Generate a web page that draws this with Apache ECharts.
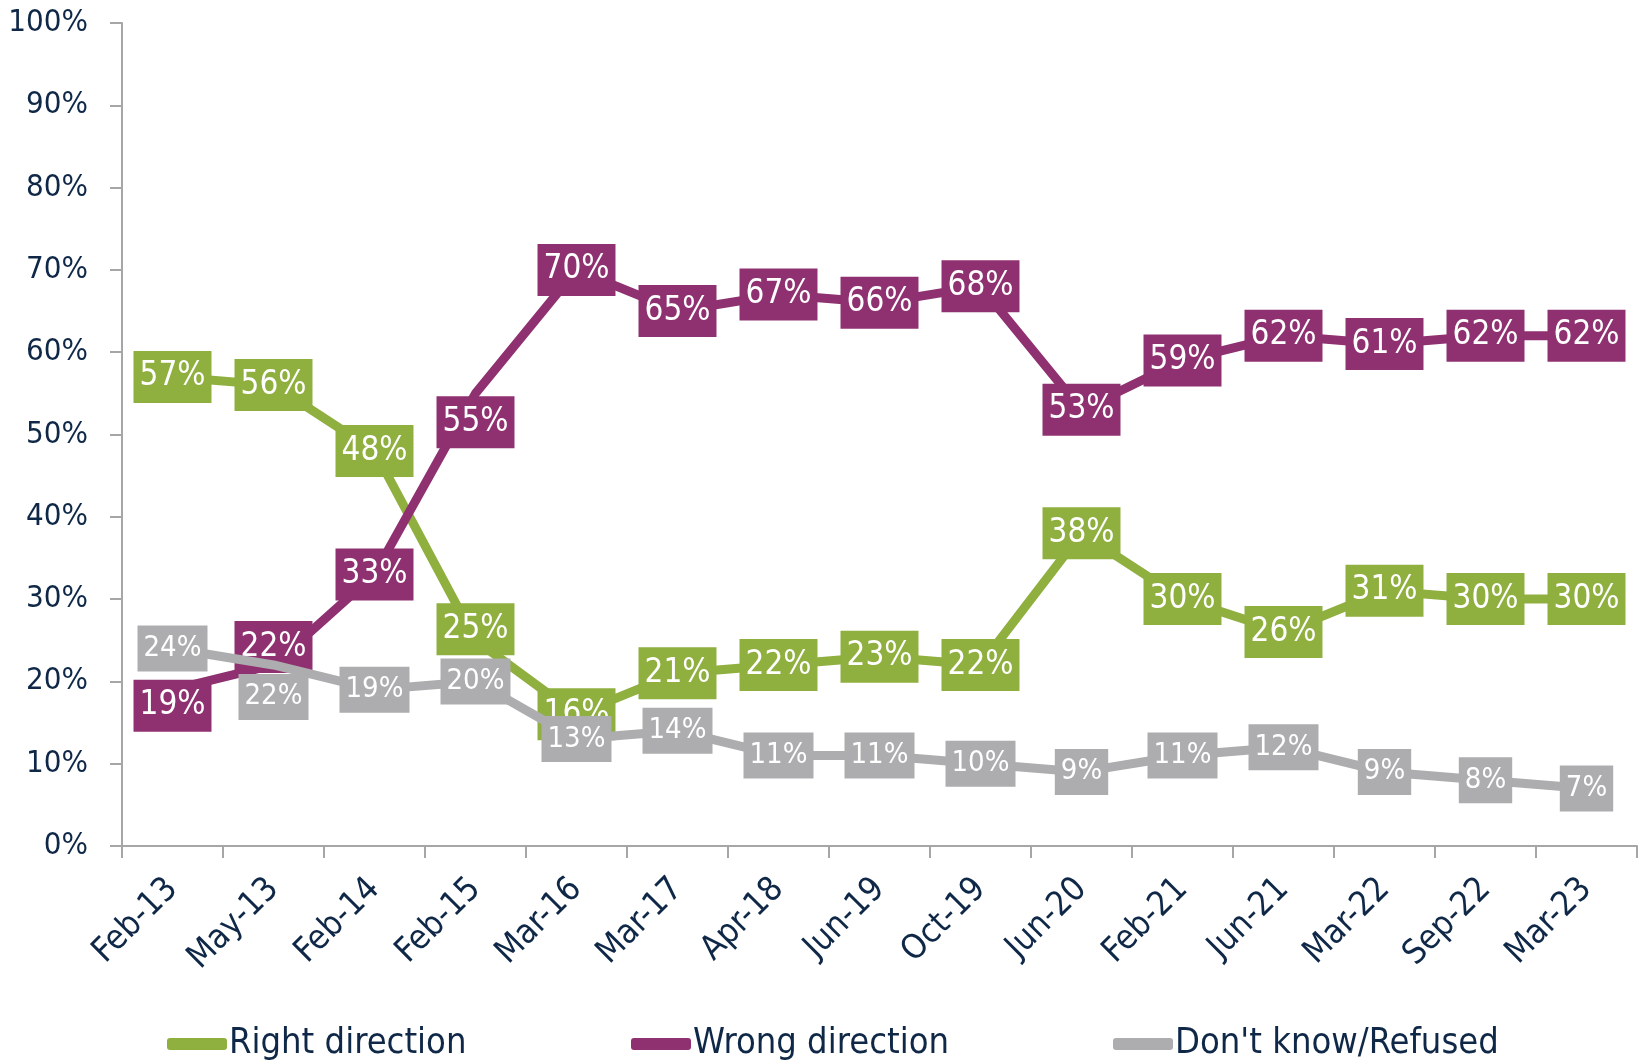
<!DOCTYPE html>
<html>
<head>
<meta charset="utf-8">
<script src="https://cdn.jsdelivr.net/npm/echarts@6/dist/echarts.min.js"></script>
<style>
html,body{margin:0;padding:0;background:#fff;}
#chart{width:1642px;height:1064px;}
</style>
</head>
<body>
<div id="chart"></div>
<script>
const categories = ['Feb-13','May-13','Feb-14','Feb-15','Mar-16','Mar-17','Apr-18','Jun-19','Oct-19','Jun-20','Feb-21','Jun-21','Mar-22','Sep-22','Mar-23'];
const rightDirection = [57,56,48,25,16,21,22,23,22,38,30,26,31,30,30];
const wrongDirection = [19,22,33,55,70,65,67,66,68,53,59,62,61,62,62];
const dontKnow = [24,22,19,20,13,14,11,11,10,9,11,12,9,8,7];
const yTicks = [0,10,20,30,40,50,60,70,80,90,100];

// label nudges (pixels, vertical) by point index — layout only
const rightNudge = {3: -11};
const wrongNudge = {0: 16, 1: -18, 3: 29};
const dkNudge = {1: 32};

const FONT = '"DejaVu Sans Condensed", "DejaVu Sans", sans-serif';
const NAVY = '#0F2847';
const GREEN = '#8FAF3F';
const PURPLE = '#8F3170';
const GRAY = '#ADADAF';
const AXIS = '#A6A6A6';

function series(name, values, nudge, color, fs, lh, padV, padH, z) {
  return {
    name: name,
    type: 'line',
    data: values.map(function (v, i) {
      return nudge[i] ? {value: v, label: {offset: [0, nudge[i]]}} : v;
    }),
    z: z,
    symbol: 'rect',
    symbolSize: 1,
    itemStyle: {color: color},
    lineStyle: {color: color, width: 9},
    label: {
      show: true,
      position: 'inside',
      formatter: '{c}%',
      color: '#fff',
      fontFamily: FONT,
      fontSize: fs,
      backgroundColor: color,
      padding: [padV, padH, padV, padH],
      lineHeight: lh
    },
    emphasis: {disabled: true},
    animation: false
  };
}

const legendText = {fontFamily: FONT, fontSize: 36, color: NAVY, padding: [0, 0, 0, -3]};

const chart = echarts.init(document.getElementById('chart'), null, {renderer: 'canvas'});
chart.setOption({
  backgroundColor: '#fff',
  animation: false,
  grid: {left: 122, right: 5, top: 23, bottom: 218, outerBoundsMode: 'none', containLabel: false},
  legend: [
    {data: ['Right direction'], left: 162, top: 1021, itemWidth: 60, itemHeight: 12, icon: 'roundRect', textStyle: legendText},
    {data: ['Wrong direction'], left: 626, top: 1021, itemWidth: 60, itemHeight: 12, icon: 'roundRect', textStyle: legendText},
    {data: ["Don't know/Refused"], left: 1108, top: 1021, itemWidth: 60, itemHeight: 12, icon: 'roundRect', textStyle: legendText}
  ],
  xAxis: {
    type: 'category',
    data: categories,
    boundaryGap: true,
    axisLine: {show: true, lineStyle: {color: AXIS, width: 2}},
    axisTick: {show: true, length: 12, lineStyle: {color: AXIS, width: 2}},
    axisLabel: {rotate: 45, margin: 38, fontFamily: FONT, fontSize: 34, color: NAVY, interval: 0},
    splitLine: {show: false}
  },
  yAxis: {
    type: 'value',
    min: yTicks[0],
    max: yTicks[yTicks.length - 1],
    interval: 10,
    axisLine: {show: true, lineStyle: {color: AXIS, width: 2}},
    axisTick: {show: true, length: 12, lineStyle: {color: AXIS, width: 2}},
    axisLabel: {margin: 34, fontFamily: FONT, fontSize: 31, color: NAVY, formatter: '{value}%'},
    splitLine: {show: false}
  },
  series: [
    series('Right direction', rightDirection, rightNudge, GREEN, 33, 36, 8, 6, 2),
    series('Wrong direction', wrongDirection, wrongNudge, PURPLE, 33, 36, 8, 6, 3),
    series("Don't know/Refused", dontKnow, dkNudge, GRAY, 29, 30, 8, 6, 4)
  ]
});
</script>
</body>
</html>
